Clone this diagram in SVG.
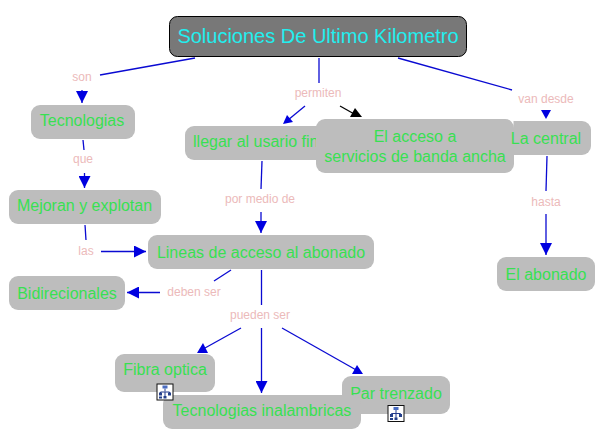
<svg xmlns="http://www.w3.org/2000/svg" width="605" height="444" viewBox="0 0 605 444">
<style>
text{font-family:"Liberation Sans",Arial,sans-serif;text-anchor:middle}
.n rect,.n path{fill:#bdbdbd}
.n text{fill:#38e052;font-size:16px}
.l{fill:#ecbaba;font-size:12px}
.c{stroke:#0a0ad2;stroke-width:1.3;fill:none}
.h{fill:#0000e0}
.i{fill:#fff;stroke:#111;stroke-width:1}
.g{fill:none;stroke:#223a8c;stroke-width:1}
</style>
<defs>
<marker id="a" markerUnits="userSpaceOnUse" markerWidth="13" markerHeight="12" refX="12" refY="6" orient="auto"><path d="M0 0L12 6L0 12Z" fill="#0000e0"/></marker>
<g id="ic"><rect class="i" x="0.5" y="0.5" width="16" height="16"/><path class="g" d="M8.500 5V8M4 11V8.500H13V11M8.500 8.500V13"/><rect x="6" y="2" width="5" height="3" fill="#4a6cc0"/><rect x="2.500" y="9" width="3" height="3" fill="#24408c"/><rect x="11.500" y="9" width="3" height="3" fill="#24408c"/><rect x="2.500" y="13" width="3" height="2" fill="#24408c"/><rect x="7" y="12.500" width="3" height="2.500" fill="#24408c"/></g>
</defs>
<rect width="605" height="444" fill="#fff"/>
<g id="connectors">
<path class="c" d="M195 58L100 75"/><path class="c" marker-end="url(#a)" d="M82 90V103"/>
<path class="c" d="M83 140L84 150"/><path class="c" marker-end="url(#a)" d="M84.500 173V188"/>
<path class="c" d="M85 225L86 240"/><path class="c" marker-end="url(#a)" d="M101 251.500H146"/>
<path class="c" d="M319 58V83"/>
<path class="c" d="M305 106L288 120"/><path class="h" d="M283 124L287 115L293 122Z"/>
<path stroke="#000" stroke-width="1.300" fill="none" d="M340 106L356 115"/><path fill="#000" d="M355 108L350 117H362Z"/>
<path class="c" d="M398 58L512 90"/><path class="h" d="M541 110H551L546 119Z"/>
<path class="c" d="M262 161L261 189"/><path class="c" marker-end="url(#a)" d="M261 212V233"/>
<path class="c" d="M547 156L546 191"/><path class="c" marker-end="url(#a)" d="M546 214V255"/>
<path class="c" d="M231 270L214 281"/><path class="c" marker-end="url(#a)" d="M160 292.500H127"/>
<path class="c" d="M261.500 270V305"/>
<path class="c" d="M241 328L205 348"/><path class="h" d="M197 353L203 343L208 353Z"/>
<path class="c" marker-end="url(#a)" d="M261.500 328V393"/>
<path class="c" d="M282 328L358 371"/><path class="h" d="M357 365L352 374H363Z"/>
</g>
<g class="l">
<text x="82" y="81">son</text>
<text x="83" y="163">que</text>
<text x="86" y="255">las</text>
<text x="318" y="97">permiten</text>
<text x="546" y="103">van desde</text>
<text x="260" y="203">por medio de</text>
<text x="546" y="206">hasta</text>
<text x="194" y="296">deben ser</text>
<text x="260" y="319">pueden ser</text>
</g>
<g id="main"><rect x="169.500" y="16.500" width="297" height="40" rx="8" fill="#787878" stroke="#000"/><text x="318" y="43" fill="#22eeee" font-size="20">Soluciones De Ultimo Kilometro</text></g>
<g id="tecnologias" class="n"><rect x="31" y="105" width="104" height="34" rx="9"/><text x="82" y="126">Tecnologias</text></g>
<g id="mejoran" class="n"><rect x="9" y="190" width="152" height="34" rx="9"/><text x="84.500" y="211">Mejoran y explotan</text></g>
<g id="llegar" class="n"><rect x="185" y="126" width="155" height="34" rx="9"/><text x="262" y="147">llegar al usario final</text></g>
<g id="acceso" class="n"><rect x="316" y="119" width="198" height="54" rx="9"/><text x="415" y="142">El acceso a</text><text x="415" y="162">servicios de banda ancha</text></g>
<g id="central" class="n"><path d="M513.500 121H582a9 9 0 0 1 9 9V146a9 9 0 0 1-9 9H513.500Z"/><text x="546" y="144">La central</text></g>
<g id="lineas" class="n"><rect x="148" y="235" width="226" height="34" rx="9"/><text x="261" y="258">Lineas de acceso al abonado</text></g>
<g id="bidirecionales" class="n"><rect x="9" y="276" width="116" height="34" rx="9"/><text x="67" y="299">Bidirecionales</text></g>
<g id="abonado" class="n"><rect x="497" y="257" width="98" height="34" rx="9"/><text x="546" y="280">El abonado</text></g>
<g id="fibra" class="n"><rect x="115" y="354" width="100" height="38" rx="9"/><text x="165" y="375">Fibra optica</text></g>
<g id="par" class="n"><rect x="342" y="376" width="108" height="38" rx="9"/><text x="396" y="399">Par trenzado</text></g>
<g id="inalambricas" class="n"><rect x="163" y="395" width="198" height="34" rx="9"/><text x="262" y="416">Tecnologias inalambricas</text></g>
<use href="#ic" x="156.500" y="383.500"/>
<use href="#ic" x="387.500" y="405"/>
</svg>
